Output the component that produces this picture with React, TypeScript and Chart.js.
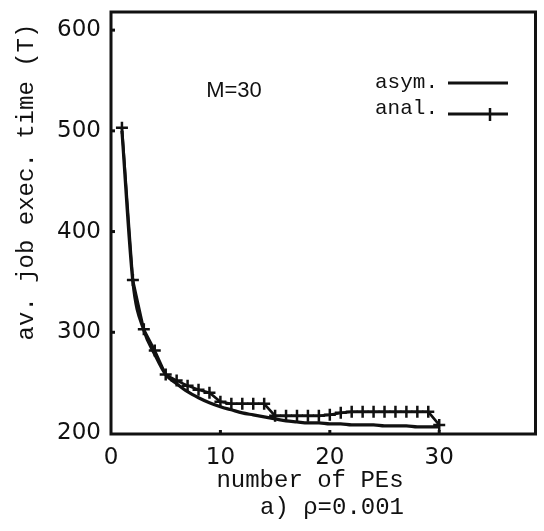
import React, { useEffect, useRef } from "react";
import { Chart, registerables } from "chart.js";

Chart.register(...registerables);

const peCounts = [1, 2, 3, 4, 5, 6, 7, 8, 9, 10, 11, 12, 13, 14, 15, 16, 17, 18, 19, 20, 21, 22, 23, 24, 25, 26, 27, 28, 29, 30];
const asymValues = [500, 350, 302, 278, 258, 249, 241, 235, 230, 226, 223, 220, 218, 216, 214, 212, 211, 210, 210, 209, 209, 208, 208, 208, 207, 207, 207, 206, 206, 206];
const analValues = [503, 352, 303, 282, 258, 252, 247, 243, 240, 231, 229, 229, 229, 229, 217, 217, 217, 217, 217, 218, 220, 221, 221, 221, 221, 221, 221, 221, 221, 208];
const xTicks = [0, 10, 20, 30];
const yTicks = [200, 300, 400, 500, 600];
const seriesLabels = ["asym.", "anal."];
const yTitle = "av. job exec. time (T)";
const xTitle = "number of PEs";
const caption = "a) \u03c1=0.001";
const note = "M=30";

const INK = "#111";
const MONO = "'Liberation Mono', 'DejaVu Sans Mono', monospace";
const SANS = "'Liberation Sans', Arial, sans-serif";

const decorPlugin = {
  id: "decor",
  afterDraw(chart: any) {
    const { ctx, chartArea, scales } = chart;
    const { left, right, top, bottom } = chartArea;
    ctx.save();
    ctx.strokeStyle = INK;
    ctx.lineWidth = 3;
    ctx.strokeRect(left, top, right - left, bottom - top);
    yTicks.forEach((v) => {
      if (v === yTicks[0]) return;
      const y = scales.y.getPixelForValue(v);
      ctx.beginPath();
      ctx.moveTo(left, y);
      ctx.lineTo(left + 4, y);
      ctx.stroke();
    });
    xTicks.forEach((v) => {
      if (v === 0) return;
      const x = scales.x.getPixelForValue(v);
      ctx.beginPath();
      ctx.moveTo(x, bottom);
      ctx.lineTo(x, bottom - 4);
      ctx.stroke();
    });
    ctx.fillStyle = INK;
    ctx.textBaseline = "middle";
    ctx.textAlign = "center";
    ctx.font = `24px ${MONO}`;
    ctx.fillText(xTitle, 310, 481);
    ctx.fillText(caption, 332, 508);
    ctx.save();
    ctx.translate(27, 182);
    ctx.rotate(-Math.PI / 2);
    ctx.fillText(yTitle, 0, 0);
    ctx.restore();
    ctx.font = `22px ${SANS}`;
    ctx.fillText(note, 234, 91);
    ctx.font = `21px ${MONO}`;
    ctx.textAlign = "left";
    ctx.fillText(seriesLabels[0], 375, 82);
    ctx.fillText(seriesLabels[1], 375, 108);
    ctx.lineWidth = 3;
    ctx.beginPath();
    ctx.moveTo(448, 83);
    ctx.lineTo(508, 83);
    ctx.stroke();
    ctx.beginPath();
    ctx.moveTo(448, 114);
    ctx.lineTo(508, 114);
    ctx.stroke();
    ctx.lineWidth = 2.5;
    ctx.beginPath();
    ctx.moveTo(490, 108);
    ctx.lineTo(490, 121);
    ctx.stroke();
    ctx.restore();
  },
};

export default function App() {
  const ref = useRef<HTMLCanvasElement | null>(null);
  useEffect(() => {
    if (!ref.current) return;
    const chart = new Chart(ref.current, {
      type: "line",
      data: {
        datasets: [
          {
            label: seriesLabels[0],
            data: peCounts.map((x, i) => ({ x, y: asymValues[i] })),
            borderColor: INK,
            borderWidth: 3.2,
            pointRadius: 0,
            tension: 0.4,
            cubicInterpolationMode: "monotone",
          },
          {
            label: seriesLabels[1],
            data: peCounts.map((x, i) => ({ x, y: analValues[i] })),
            borderColor: INK,
            backgroundColor: INK,
            borderWidth: 2.6,
            pointStyle: "cross",
            pointRadius: 6,
            pointBorderWidth: 2.5,
            tension: 0,
          },
        ],
      },
      options: {
        responsive: false,
        animation: false,
        layout: { padding: { left: 0, top: 12, right: 5, bottom: 0 } },
        plugins: { legend: { display: false }, tooltip: { enabled: false } },
        scales: {
          x: {
            type: "linear",
            min: 0,
            max: 38.8,
            afterFit: (s: any) => {
              s.height = 97;
              s.paddingLeft = 0;
              s.paddingRight = 0;
            },
            afterBuildTicks: (s: any) => {
              s.ticks = xTicks.map((v) => ({ value: v }));
            },
            grid: { display: false, drawTicks: false },
            border: { display: false },
            ticks: {
              padding: 10,
              color: INK,
              font: { family: "'DejaVu Sans', sans-serif", size: 23 },
            },
          },
          y: {
            type: "linear",
            min: 199,
            max: 618,
            afterFit: (s: any) => {
              s.width = 111;
              s.paddingTop = 0;
              s.paddingBottom = 0;
            },
            afterBuildTicks: (s: any) => {
              s.ticks = yTicks.map((v) => ({ value: v }));
            },
            grid: { display: false, drawTicks: false },
            border: { display: false },
            ticks: {
              padding: 10,
              color: INK,
              font: { family: "'DejaVu Sans', sans-serif", size: 23 },
            },
          },
        },
      },
      plugins: [decorPlugin],
    } as any);
    return () => chart.destroy();
  }, []);
  return (
    <div style={{ position: "fixed", left: 0, top: 0, width: 544, height: 531, background: "#fff" }}>
      <canvas ref={ref} width={544} height={531} style={{ display: "block" }} />
    </div>
  );
}
